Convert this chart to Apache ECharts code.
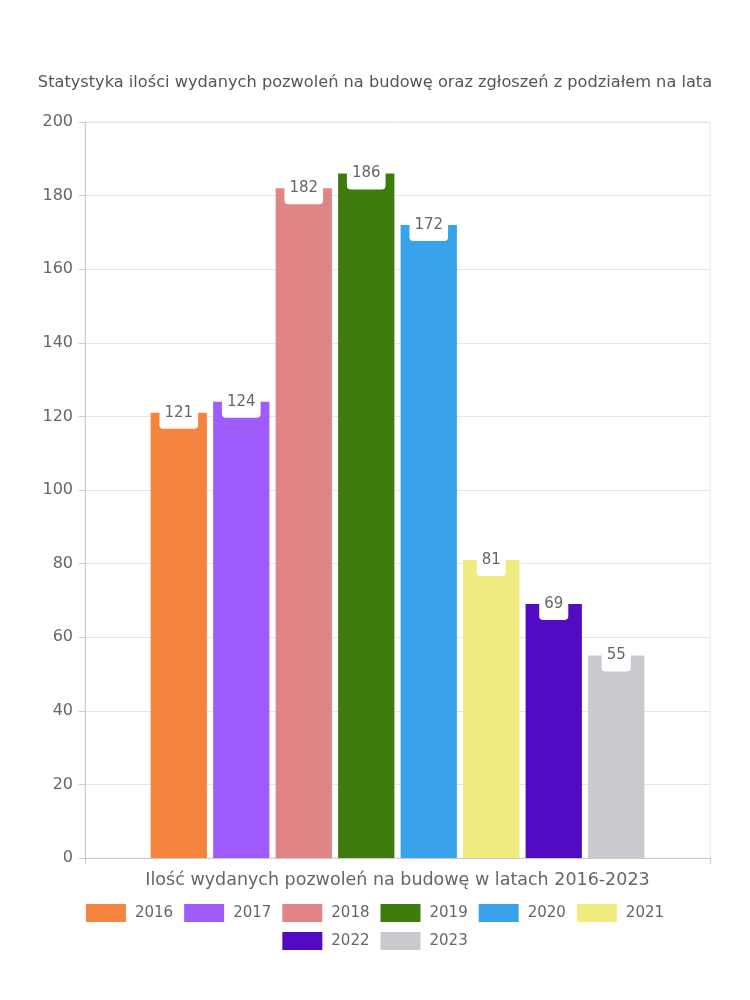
<!DOCTYPE html>
<html>
<head>
<meta charset="utf-8">
<script src="https://cdn.jsdelivr.net/npm/echarts@6/dist/echarts.min.js"></script>
<style>
html,body{margin:0;padding:0;background:#fff;}
#chart{width:750px;height:1000px;}
</style>
</head>
<body>
<div id="chart"></div>
<script>
const titleText = 'Statystyka ilości wydanych pozwoleń na budowę oraz zgłoszeń z podziałem na lata';
const categories = ['Ilość wydanych pozwoleń na budowę w latach 2016-2023'];
const years = ['2016','2017','2018','2019','2020','2021','2022','2023'];
const values = [121,124,182,186,172,81,69,55];
const colors = ['#F5843F','#A05BFD','#E08585','#3E7B0D','#38A2EA','#F0EB7E','#520AC3','#C9CACE'];
const yTicks = {min:0, max:200, interval:20};

const FONT = 'DejaVu Sans';
const TXT = '#666';
const chart = echarts.init(document.getElementById('chart'));
const series = years.map((y,i)=>({
  name: y,
  type: 'bar',
  data: [values[i]],
  itemStyle: {color: colors[i]},
  barGap: '11%',
  barCategoryGap: '21%',
  label: {
    show: true,
    position: 'insideTop',
    distance: 0,
    offset: [0,-16],
    color: TXT,
    fontFamily: FONT,
    fontSize: 15,
    lineHeight: 16,
    padding: [8,5,8,5],
    backgroundColor: '#fff',
    borderRadius: 4
  }
}));
const legendBase = {
  itemWidth: 40,
  itemHeight: 18,
  itemGap: 11,
  icon: 'rect',
  left: 'center',
  orient: 'horizontal',
  textStyle: {fontFamily: FONT, fontSize: 15, color: TXT, padding: [0,0,0,4]}
};
chart.setOption({
  animation: false,
  title: {
    text: titleText,
    left: 'center',
    top: 70,
    textStyle: {fontFamily: FONT, fontSize: 16.2, fontWeight: 'normal', color: '#555'}
  },
  grid: {left: 85, right: 40, top: 122, bottom: 142, show: true, borderColor: '#e6e6e6', borderWidth: 1},
  xAxis: {
    type: 'category',
    data: categories,
    axisLine: {lineStyle: {color: '#ccc'}},
    axisTick: {show: true, length: 6, lineStyle: {color: '#ccc'}},
    axisLabel: {fontFamily: FONT, fontSize: 17.5, color: TXT, margin: 13}
  },
  yAxis: {
    type: 'value',
    min: yTicks.min, max: yTicks.max, interval: yTicks.interval,
    axisLine: {show: true, lineStyle: {color: '#ccc'}},
    axisTick: {show: true, length: 6, lineStyle: {color: '#ccc'}},
    splitLine: {lineStyle: {color: '#e6e6e6'}},
    axisLabel: {fontFamily: FONT, fontSize: 16, color: TXT, margin: 12}
  },
  legend: [
    Object.assign({}, legendBase, {data: years.slice(0,6), top: 899}),
    Object.assign({}, legendBase, {data: years.slice(6), top: 927})
  ],
  series: series
});
</script>
</body>
</html>
